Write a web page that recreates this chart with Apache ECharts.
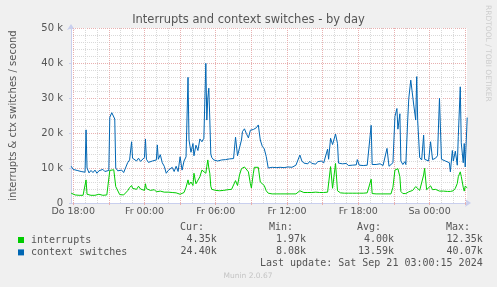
<!DOCTYPE html>
<html><head><meta charset="utf-8">
<script src="https://cdn.jsdelivr.net/npm/echarts@6/dist/echarts.min.js"></script>
<style>html,body{margin:0;padding:0;background:#f0f0f0}#c{width:497px;height:287px}</style>
</head><body><div id="c"></div>
<script>
// minutes since Do 18:00
const timeMinutes = [-10,0,10,20,30,40,50,60,65,70,80,90,100,110,120,130,140,150,160,170,180,185,195,205,210,215,225,235,245,255,265,275,285,295,300,310,320,330,340,350,360,365,370,380,390,400,410,420,425,430,440,450,460,470,480,490,500,510,520,530,540,550,560,570,580,585,595,605,610,620,630,640,650,660,670,675,680,685,690,695,700,710,720,730,740,750,760,770,780,790,800,810,820,830,840,850,855,865,875,885,895,900,910,915,925,935,945,955,965,975,985,995,1005,1015,1025,1035,1045,1055,1065,1075,1085,1095,1105,1115,1125,1135,1145,1155,1165,1175,1185,1195,1205,1215,1225,1235,1245,1255,1265,1275,1285,1290,1300,1310,1325,1335,1340,1350,1360,1370,1380,1390,1400,1410,1420,1430,1435,1445,1455,1465,1475,1485,1495,1505,1510,1520,1530,1540,1550,1555,1565,1575,1585,1595,1605,1615,1625,1635,1640,1650,1655,1665,1675,1680,1690,1695,1705,1715,1720,1730,1735,1740,1750,1760,1770,1775,1785,1795,1805,1815,1820,1830,1840,1850,1860,1870,1880,1890,1900,1905,1915,1920,1930,1940,1945,1955,1960,1970,1975,1980,1990];
// values in thousands per second
const ctxSwitchesK = [10.5,9.6,10.0,9.3,9.5,9.0,9.2,8.8,20.9,10.0,8.6,9.3,8.7,9.4,8.5,9.2,8.8,9.6,9.0,9.5,9.3,24.5,25.8,25.6,24.0,10.0,9.2,8.8,9.4,8.7,9.0,11.5,12.3,17.5,12.8,12.5,12.0,12.8,11.9,12.2,13.0,18.3,12.5,11.6,11.3,12.0,12.4,12.3,16.6,12.5,13.8,11.5,10.5,8.5,9.3,8.8,10.2,9.0,10.5,9.0,13.2,9.4,12.0,13.2,35.9,18.0,14.5,17.0,13.5,16.5,15.0,18.3,17.5,18.5,39.9,23.7,30.0,32.8,24.0,14.0,13.0,12.3,12.6,12.0,12.5,12.3,12.8,12.4,12.8,12.6,12.9,12.7,18.8,13.5,13.3,18.0,20.4,21.2,19.8,18.6,20.8,20.3,21.0,20.5,21.5,22.3,18.0,16.2,15.5,13.3,10.0,10.3,10.2,10.4,10.1,10.5,10.2,10.6,10.1,10.4,10.3,10.7,10.2,10.5,10.8,10.6,13.7,12.0,11.4,11.7,11.2,11.9,11.3,11.6,11.1,11.8,11.3,12.0,11.4,11.6,15.4,12.5,18.5,16.7,19.7,17.0,11.4,10.9,11.2,10.8,11.3,10.7,11.0,10.8,11.2,10.9,12.4,10.8,11.1,10.7,11.0,10.8,11.0,22.2,11.0,10.8,11.0,10.6,11.2,11.5,10.7,10.4,15.6,10.5,10.1,11.5,24.7,27.0,21.1,25.5,12.0,11.0,11.8,11.0,24.3,29.9,35.1,35.6,28.0,23.7,36.1,23.5,13.0,12.3,19.4,12.5,13.0,12.0,17.5,12.4,12.2,12.8,13.5,29.9,12.5,12.3,12.0,11.8,11.5,8.9,15.0,12.0,14.8,10.8,19.0,33.2,17.2,11.5,17.0,10.3,24.4];
const interruptsK = [2.8,2.4,2.3,2.3,2.2,2.2,2.2,2.3,6.6,2.5,2.3,2.2,2.3,2.2,2.2,2.5,2.3,2.2,2.2,2.3,2.2,9.3,9.6,9.5,9.0,4.7,4.6,2.4,2.3,2.3,2.4,3.5,4.4,5.0,4.2,4.5,3.9,4.8,4.0,4.1,3.6,5.5,4.1,3.7,3.6,3.4,3.8,3.2,3.5,3.3,3.4,3.2,3.1,2.8,3.1,2.8,3.0,2.6,2.9,2.4,2.5,2.3,3.0,4.5,6.6,5.2,6.0,5.0,8.5,5.5,5.0,7.5,9.4,9.8,8.5,10.5,12.3,10.0,8.5,4.8,3.9,3.6,3.6,3.7,3.5,3.7,3.6,3.7,3.8,3.8,3.9,3.8,6.4,5.0,8.0,9.8,10.2,10.3,10.0,8.9,5.5,4.3,8.5,10.2,10.2,10.2,6.0,5.6,5.0,3.5,2.8,2.7,2.6,2.7,2.6,2.7,2.6,2.7,2.6,2.8,2.6,2.7,2.6,2.7,2.6,2.8,3.5,3.1,3.0,3.0,3.0,3.1,3.0,3.0,3.1,3.0,3.0,3.1,3.0,3.0,3.1,3.0,10.4,4.2,11.3,3.5,3.0,2.9,2.9,2.8,2.9,2.8,2.9,2.8,2.9,2.8,2.9,2.8,2.9,2.8,2.8,2.9,2.8,6.8,2.7,2.7,2.6,2.7,2.6,2.7,2.6,2.6,2.6,2.6,2.6,4.5,9.4,9.6,9.8,7.5,3.3,2.7,2.8,2.7,3.0,3.2,3.4,3.6,3.7,4.7,5.0,5.2,3.6,4.0,8.0,9.9,3.8,3.7,4.9,3.8,3.6,3.9,3.6,3.4,3.5,3.4,3.5,3.3,3.2,3.3,3.6,3.5,4.2,5.6,7.5,8.9,7.6,4.5,3.4,4.8,4.35];

const xTickMinutes = [0,360,720,1080,1440,1800];
const xTickLabels = ['Do 18:00','Fr 00:00','Fr 06:00','Fr 12:00','Fr 18:00','Sa 00:00'];
const seriesNames = ['interrupts','context switches'];
const seriesColors = ['#00cc00','#0066b3'];
const statHeaders = ['Cur:','Min:','Avg:','Max:'];
const interruptsStats = ['4.35k','1.97k','4.00k','12.35k'];
const ctxStats = ['24.40k','8.08k','13.59k','40.07k'];
const lastUpdate = 'Last update: Sat Sep 21 03:00:15 2024';
const titleText = 'Interrupts and context switches - by day';
const yAxisName = 'interrupts & ctx switches / second';

const majorGrid = [], minorGrid = [];
for (let m = 0; m <= 1980; m += 60) { (m % 180 === 0 ? majorGrid : minorGrid).push(m); }

const toPairs = (vals) => timeMinutes.map((t, i) => [t, vals[i] * 1000]);
const SANS = 'DejaVu Sans';
const MONO = 'DejaVu Sans Mono';
const TXT = '#555';
const MINOR = '#d9d9d9';
const MAJOR = '#e8b0b0';

const gridLines = minorGrid.map(v => ({xAxis: v, lineStyle: {color: MINOR, type: [1,1], width: 1}}))
  .concat(majorGrid.map(v => ({xAxis: v, lineStyle: {color: MAJOR, type: [1,1], width: 1}})));

const statCols = [204, 293, 381, 470];
const valCols = [216.7, 306, 394, 482.7];
const graphics = [];
statHeaders.forEach((h, i) => graphics.push({type:'text', x: statCols[i], y: 227.5, style:{text:h, align:'right', verticalAlign:'middle', font:'10px "'+MONO+'"', fill:TXT}}));
interruptsStats.forEach((s, i) => graphics.push({type:'text', x: valCols[i], y: 239.5, style:{text:s, align:'right', verticalAlign:'middle', font:'10px "'+MONO+'"', fill:TXT}}));
ctxStats.forEach((s, i) => graphics.push({type:'text', x: valCols[i], y: 251.8, style:{text:s, align:'right', verticalAlign:'middle', font:'10px "'+MONO+'"', fill:TXT}}));
graphics.push({type:'text', x: 482.7, y: 263.5, style:{text:lastUpdate, align:'right', verticalAlign:'middle', font:'10px "'+MONO+'"', fill:TXT}});
graphics.push({type:'text', x: 248, y: 276, style:{text:'Munin 2.0.67', align:'center', verticalAlign:'middle', font:'7.5px "'+SANS+'"', fill:'#c4c4c4'}});
graphics.push({type:'text', x: 487.5, y: 5, rotation: -Math.PI/2, style:{text:'RRDTOOL / TOBI OETIKER', align:'left', verticalAlign:'middle', font:'7.5px "'+SANS+'"', fill:'#cdcdcd'}});

const chart = echarts.init(document.getElementById('c'), null, {renderer:'canvas'});
chart.setOption({
  animation: false,
  backgroundColor: '#f0f0f0',
  title: {text: titleText, left: 'center', top: 9, textStyle: {fontFamily: SANS, fontSize: 11.5, fontWeight: 'normal', color: TXT}},
  legend: {
    data: seriesNames, orient: 'vertical', left: 13, top: 229, icon: 'rect',
    itemWidth: 6, itemHeight: 6, itemGap: 0.4, selectedMode: false,
    textStyle: {fontFamily: MONO, fontSize: 10, color: TXT, lineHeight: 12, padding: [0,0,0,2]}
  },
  grid: {left: 67, top: 28, width: 400, height: 175, containLabel: false, show: true, backgroundColor: '#ffffff', borderWidth: 0},
  xAxis: {
    type: 'value', min: -11, max: 1989,
    axisLine: {show: true, lineStyle: {color: '#c9cfee', width: 1}, symbol: ['none','arrow'], symbolSize: [6,6], symbolOffset: [0, 4]},
    axisTick: {show: true, customValues: majorGrid, length: 2, lineStyle: {color: MAJOR}},
    axisLabel: {customValues: xTickMinutes, formatter: (v) => xTickLabels[xTickMinutes.indexOf(v)] || '', fontFamily: SANS, fontSize: 9.5, color: TXT, margin: 4},
    splitLine: {show: false}
  },
  yAxis: [
    {type: 'value', position: 'left', min: 0, max: 50000, interval: 2000, axisLabel: {show: false}, axisLine: {show: false}, axisTick: {show: false},
     splitLine: {show: true, lineStyle: {color: MINOR, type: [1,1], width: 1}}},
    {type: 'value', position: 'left', min: 0, max: 50000, interval: 10000,
     name: yAxisName, nameLocation: 'middle', nameGap: 53, nameTextStyle: {fontFamily: SANS, fontSize: 10, color: TXT},
     axisLabel: {formatter: (v) => v === 0 ? '0' : (v / 1000) + ' k', fontFamily: SANS, fontSize: 10, color: TXT, margin: 8},
     axisLine: {show: true, lineStyle: {color: '#c9cfee', width: 1}, symbol: ['none','arrow'], symbolSize: [6,6], symbolOffset: [0, 4]},
     axisTick: {show: true, length: 2, lineStyle: {color: '#c9cfee'}},
     splitLine: {show: true, lineStyle: {color: MAJOR, type: [1,1], width: 1}}}
  ],
  series: [
    {type: 'line', name: '_grid', data: [], z: 1, silent: true,
     markLine: {z: 1, silent: true, symbol: ['none','none'], label: {show: false}, animation: false, data: gridLines}},
    {type: 'line', name: seriesNames[0], data: toPairs(interruptsK), yAxisIndex: 1, showSymbol: false, symbol: 'none', z: 3,
     color: seriesColors[0], lineStyle: {color: seriesColors[0], width: 1}},
    {type: 'line', name: seriesNames[1], data: toPairs(ctxSwitchesK), yAxisIndex: 1, showSymbol: false, symbol: 'none', z: 3,
     color: seriesColors[1], lineStyle: {color: seriesColors[1], width: 1}}
  ],
  graphic: graphics
});
</script></body></html>
